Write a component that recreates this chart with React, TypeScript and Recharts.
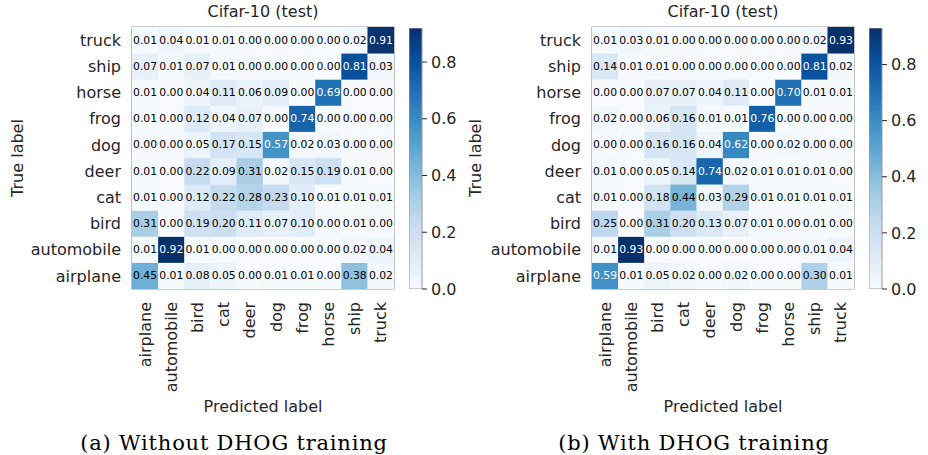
import React from 'react';
import { ScatterChart, Scatter, XAxis, YAxis, BarChart, Bar, ReferenceArea } from 'recharts';

const CLASSES = ['airplane', 'automobile', 'bird', 'cat', 'deer', 'dog', 'frog', 'horse', 'ship', 'truck'];
const CLASS_IDX = [0, 1, 2, 3, 4, 5, 6, 7, 8, 9];
const CBAR_TICKS = [0, 0.2, 0.4, 0.6, 0.8];
const BLUES = ['#f7fbff', '#deebf7', '#c6dbef', '#9ecae1', '#6baed6', '#4292c6', '#2171b5', '#08519c', '#08306b'];

// rows: true label (airplane .. truck), columns: predicted label
const MATRIX_A = [
  [0.45, 0.01, 0.08, 0.05, 0.00, 0.01, 0.01, 0.00, 0.38, 0.02],
  [0.01, 0.92, 0.01, 0.00, 0.00, 0.00, 0.00, 0.00, 0.02, 0.04],
  [0.31, 0.00, 0.19, 0.20, 0.11, 0.07, 0.10, 0.00, 0.01, 0.00],
  [0.01, 0.00, 0.12, 0.22, 0.28, 0.23, 0.10, 0.01, 0.01, 0.01],
  [0.01, 0.00, 0.22, 0.09, 0.31, 0.02, 0.15, 0.19, 0.01, 0.00],
  [0.00, 0.00, 0.05, 0.17, 0.15, 0.57, 0.02, 0.03, 0.00, 0.00],
  [0.01, 0.00, 0.12, 0.04, 0.07, 0.00, 0.74, 0.00, 0.00, 0.00],
  [0.01, 0.00, 0.04, 0.11, 0.06, 0.09, 0.00, 0.69, 0.00, 0.00],
  [0.07, 0.01, 0.07, 0.01, 0.00, 0.00, 0.00, 0.00, 0.81, 0.03],
  [0.01, 0.04, 0.01, 0.01, 0.00, 0.00, 0.00, 0.00, 0.02, 0.91],
];

const MATRIX_B = [
  [0.59, 0.01, 0.05, 0.02, 0.00, 0.02, 0.00, 0.00, 0.30, 0.01],
  [0.01, 0.93, 0.00, 0.00, 0.00, 0.00, 0.00, 0.00, 0.01, 0.04],
  [0.25, 0.00, 0.31, 0.20, 0.13, 0.07, 0.01, 0.00, 0.01, 0.00],
  [0.01, 0.00, 0.18, 0.44, 0.03, 0.29, 0.01, 0.01, 0.01, 0.01],
  [0.01, 0.00, 0.05, 0.14, 0.74, 0.02, 0.01, 0.01, 0.01, 0.00],
  [0.00, 0.00, 0.16, 0.16, 0.04, 0.62, 0.00, 0.02, 0.00, 0.00],
  [0.02, 0.00, 0.06, 0.16, 0.01, 0.01, 0.76, 0.00, 0.00, 0.00],
  [0.00, 0.00, 0.07, 0.07, 0.04, 0.11, 0.00, 0.70, 0.01, 0.01],
  [0.14, 0.01, 0.01, 0.00, 0.00, 0.00, 0.00, 0.00, 0.81, 0.02],
  [0.01, 0.03, 0.01, 0.00, 0.00, 0.00, 0.00, 0.00, 0.02, 0.93],
];

const FONT = '"DejaVu Sans", sans-serif';
const TEXT = '#262626';
const FRAME = '#9a9a9a';
const FS = 16;
const PLOT = 262;
const CELL = PLOT / 10;
const YW = 132;
const TOP = 27;

function hexToRgb(h: string) {
  return [parseInt(h.slice(1, 3), 16), parseInt(h.slice(3, 5), 16), parseInt(h.slice(5, 7), 16)];
}
function blues(t: number) {
  const c = Math.max(0, Math.min(1, t)) * (BLUES.length - 1);
  const i = Math.min(BLUES.length - 2, Math.floor(c));
  const f = c - i;
  const a = hexToRgb(BLUES[i]);
  const b = hexToRgb(BLUES[i + 1]);
  const m = a.map((v, k) => Math.round(v + (b[k] - v) * f));
  return `rgb(${m[0]},${m[1]},${m[2]})`;
}

function toPoints(matrix: number[][]) {
  const pts: { x: number; y: number; v: number }[] = [];
  matrix.forEach((row, r) => row.forEach((v, c) => pts.push({ x: c, y: r, v })));
  return pts;
}

const XTick = (props: any) => {
  const { x, y, payload } = props;
  return (
    <text x={x} y={y} transform={`rotate(-90 ${x} ${y})`} textAnchor="end" dominantBaseline="central"
      fill={TEXT} fontSize={FS} fontFamily={FONT}>
      {CLASSES[payload.value]}
    </text>
  );
};

function Heatmap({ matrix, left, labelOffset }: { matrix: number[][]; left: number; labelOffset: number }) {
  const max = Math.max(...matrix.flat());
  const data = toPoints(matrix);
  const shape = (p: any) => {
    const { cx, cy, payload } = p;
    const v = payload.v;
    const fill = blues(v / max);
    return (
      <g>
        <rect x={cx - CELL / 2} y={cy - CELL / 2} width={CELL} height={CELL} fill={fill} stroke={fill} strokeWidth={0.4} />
        <text x={cx} y={cy} textAnchor="middle" dominantBaseline="central" fontSize={10.8} fontFamily={FONT}
          fill={v > max / 2 ? '#ffffff' : '#000000'}>
          {v.toFixed(2)}
        </text>
      </g>
    );
  };
  return (
    <div style={{ position: 'absolute', left, top: 0 }}>
      <ScatterChart width={YW + PLOT + 4} height={TOP + PLOT + 131} margin={{ top: TOP, right: 4, left: 0, bottom: 0 }}>
        <XAxis type="number" dataKey="x" domain={[-0.5, 9.5]} ticks={CLASS_IDX} interval={0} allowDataOverflow
          axisLine={false} tickLine={false} tickSize={6} tickMargin={7} height={131} tick={<XTick />}
          label={{ value: 'Predicted label', position: 'insideBottom', offset: 8, fill: TEXT, fontSize: FS, fontFamily: FONT }} />
        <YAxis type="number" dataKey="y" domain={[-0.5, 9.5]} ticks={CLASS_IDX} interval={0} allowDataOverflow
          axisLine={false} tickLine={false} tickSize={6} tickMargin={5} width={YW}
          tickFormatter={(v: number) => CLASSES[v]}
          tick={{ fill: TEXT, fontSize: FS, fontFamily: FONT }}
          label={{ value: 'True label', angle: -90, position: 'insideLeft', offset: labelOffset, fill: TEXT, fontSize: FS, fontFamily: FONT, style: { textAnchor: 'middle' } }} />
        <Scatter data={data} shape={shape} isAnimationActive={false} />
        <ReferenceArea x1={-0.5} x2={9.5} y1={-0.5} y2={9.5} fill="none" stroke={FRAME} strokeWidth={1.2} fillOpacity={0} ifOverflow="visible" />
      </ScatterChart>
    </div>
  );
}

function ColorBar({ max, left, id }: { max: number; left: number; id: string }) {
  const data = [{ name: 'c', v: max }];
  return (
    <div style={{ position: 'absolute', left, top: 0 }}>
      <BarChart width={13 + 60} height={300} data={data} barCategoryGap={0} margin={{ top: 28, right: 0, left: 0, bottom: 11 }}>
        <defs>
          <linearGradient id={id} x1="0" y1="1" x2="0" y2="0">
            {BLUES.map((c, i) => (
              <stop key={i} offset={i / (BLUES.length - 1)} stopColor={c} />
            ))}
          </linearGradient>
        </defs>
        <XAxis dataKey="name" hide />
        <YAxis orientation="right" domain={[0, max]} ticks={CBAR_TICKS} allowDataOverflow width={60}
          axisLine={false} tickLine={{ stroke: TEXT }} tickSize={5} tickMargin={4}
          tickFormatter={(v: number) => v.toFixed(1)}
          tick={{ fill: TEXT, fontSize: FS, fontFamily: FONT, textAnchor: 'start' }} />
        <Bar dataKey="v" fill={`url(#${id})`} stroke={FRAME} strokeWidth={1} isAnimationActive={false} />
      </BarChart>
    </div>
  );
}

const titleStyle: React.CSSProperties = {
  position: 'absolute', top: 2, width: 300, textAlign: 'center', fontFamily: FONT, fontSize: FS, color: TEXT, lineHeight: '20px',
};
const capStyle: React.CSSProperties = {
  position: 'absolute', top: 431, width: 460, textAlign: 'center', fontFamily: '"DejaVu Serif", serif', fontSize: 21,
  letterSpacing: '0.8px', color: '#000', lineHeight: '24px', whiteSpace: 'nowrap',
};

export default function App() {
  const maxA = Math.max(...MATRIX_A.flat());
  const maxB = Math.max(...MATRIX_B.flat());
  return (
    <div style={{ position: 'absolute', left: 0, top: 0, width: 928, height: 455, background: '#fff', overflow: 'hidden' }}>
      <div style={{ ...titleStyle, left: 263 - 150 }}>Cifar-10 (test)</div>
      <div style={{ ...titleStyle, left: 723 - 150 }}>Cifar-10 (test)</div>
      <Heatmap matrix={MATRIX_A} left={0} labelOffset={17} />
      <ColorBar max={maxA} left={409} id="gradA" />
      <Heatmap matrix={MATRIX_B} left={460} labelOffset={15} />
      <ColorBar max={maxB} left={869} id="gradB" />
      <div style={{ ...capStyle, left: 234 - 230 }}>(a) Without DHOG training</div>
      <div style={{ ...capStyle, left: 694 - 230 }}>(b) With DHOG training</div>
    </div>
  );
}
